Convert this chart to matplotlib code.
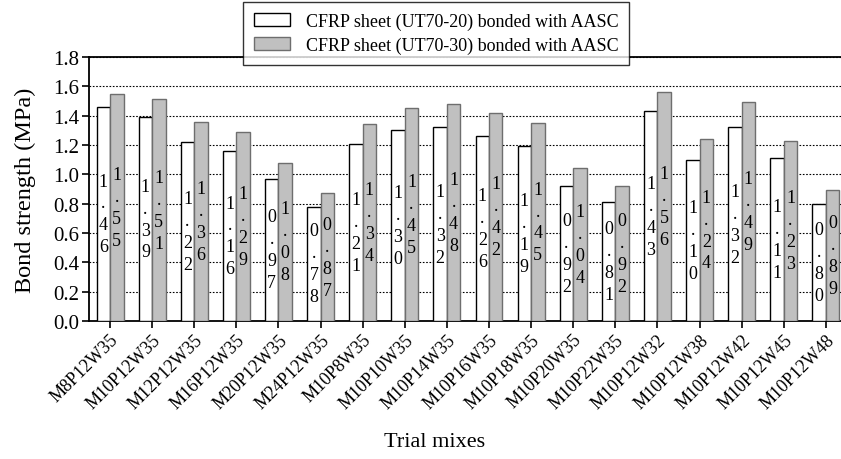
import numpy as np
import matplotlib.pyplot as plt

plt.rcParams['font.family'] = ['Liberation Serif', 'DejaVu Serif']

mixes = ['M8P12W35', 'M10P12W35', 'M12P12W35', 'M16P12W35', 'M20P12W35',
         'M24P12W35', 'M10P8W35', 'M10P10W35', 'M10P14W35', 'M10P16W35',
         'M10P18W35', 'M10P20W35', 'M10P22W35', 'M10P12W32', 'M10P12W38',
         'M10P12W42', 'M10P12W45', 'M10P12W48']
ut20 = [1.46, 1.39, 1.22, 1.16, 0.97, 0.78, 1.21, 1.30, 1.32, 1.26,
        1.19, 0.92, 0.81, 1.43, 1.10, 1.32, 1.11, 0.80]
ut30 = [1.55, 1.51, 1.36, 1.29, 1.08, 0.87, 1.34, 1.45, 1.48, 1.42,
        1.35, 1.04, 0.92, 1.56, 1.24, 1.49, 1.23, 0.89]
# labels printed in the bars (M10P18W35 grey reads 1.45 in the original)
lab20 = ['1.46', '1.39', '1.22', '1.16', '0.97', '0.78', '1.21', '1.30', '1.32',
         '1.26', '1.19', '0.92', '0.81', '1.43', '1.10', '1.32', '1.11', '0.80']
lab30 = ['1.55', '1.51', '1.36', '1.29', '1.08', '0.87', '1.34', '1.45', '1.48',
         '1.42', '1.45', '1.04', '0.92', '1.56', '1.24', '1.49', '1.23', '0.89']
legend_labels = ['CFRP sheet (UT70-20) bonded with AASC',
                 'CFRP sheet (UT70-30) bonded with AASC']

x = np.arange(len(mixes))
w = 0.32

fig = plt.figure(figsize=(8.41, 4.6), dpi=100)
ax = fig.add_axes([0.1058, 0.30, 0.8942, 0.574])

b1 = ax.bar(x - w / 2, ut20, w, color='white', edgecolor='black', linewidth=1.0,
            label=legend_labels[0], zorder=3)
b2 = ax.bar(x + w / 2, ut30, w, color='#c0c0c0', edgecolor='#6e6e6e', linewidth=1.0,
            label=legend_labels[1], zorder=3)

for xi, v, s in zip(x - w / 2, ut20, lab20):
    ax.text(xi, v / 2, '\n'.join(s), ha='center', va='center', fontsize=13,
            linespacing=1.38, zorder=4)
for xi, v, s in zip(x + w / 2, ut30, lab30):
    ax.text(xi, v / 2, '\n'.join(s), ha='center', va='center', fontsize=13,
            linespacing=1.38, zorder=4)

ax.set_ylim(0, 1.8)
ax.set_xlim(-0.5, 17.36)
ax.set_yticks(np.arange(0, 1.81, 0.2))
ax.set_yticklabels(['%.1f' % t for t in np.arange(0, 1.81, 0.2)], fontsize=15)
ax.set_xticks(x)
ax.set_xticklabels(mixes, rotation=45, ha='right', rotation_mode='anchor', fontsize=13)
ax.tick_params(axis='both', direction='out', length=5, width=1.2, pad=2)
ax.yaxis.grid(True, linestyle=(0, (1.5, 1.5)), color='black', linewidth=0.8, zorder=0)

ax.spines['right'].set_visible(False)
for sp in ['left', 'bottom', 'top']:
    ax.spines[sp].set_linewidth(1.3)

ax.set_ylabel('Bond strength (MPa)', fontsize=17.5)
ax.yaxis.set_label_coords(-0.071, 0.5)
ax.set_xlabel('Trial mixes', fontsize=16)
ax.xaxis.set_label_coords((435 - 89) / 752, -0.42)

leg = fig.legend(handles=[b1, b2], loc='upper center', bbox_to_anchor=(436 / 841, 1 - 3 / 460),
                 fontsize=13, frameon=True, fancybox=False, edgecolor='black',
                 handlelength=2.0, handleheight=0.7, borderpad=0.6, labelspacing=0.35,
                 handletextpad=0.9, borderaxespad=0)
leg.get_frame().set_linewidth(1.0)
leg.set_zorder(10)

fig.savefig('out.png', dpi=100)
